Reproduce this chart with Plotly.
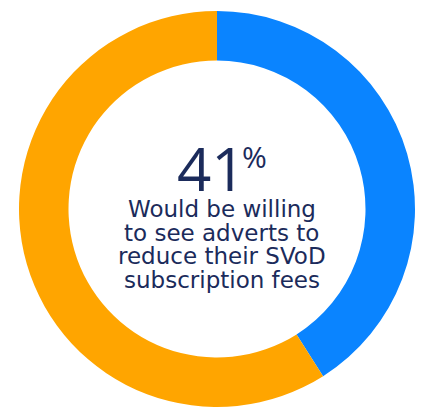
"""SVoD advert willingness — donut chart with centre callout."""

import plotly.graph_objects as go

# ── data ─────────────────────────────────────────────────────────────

labels = ["Willing", "Not willing"]
shares = [41, 59]
slice_colors = ["#0A84FF", "#FFA500"]
headline = "41"
caption_lines = [
    "Would be willing",
    "to see adverts to",
    "reduce their SVoD",
    "subscription fees",
]

NAVY = "#1B2B5B"
HEAD_FONT = "Open Sans"
BODY_FONT = "DejaVu Sans"

# ── chart ────────────────────────────────────────────────────────────

W, H = 424, 408
OFF = 8  # page body margin pushes the plot down/right
cx, cy, r = 217, 209, 198  # target pixels in the page


def paper(x, y):
    """Page pixel position -> paper coordinates."""
    return (x - OFF) / W, 1 - (y - OFF) / H


fig = go.Figure(
    go.Pie(
        labels=labels,
        values=shares,
        hole=0.75,
        sort=False,
        direction="clockwise",
        rotation=0,
        marker={"colors": slice_colors, "line": {"width": 0}},
        textinfo="none",
        hoverinfo="label+percent",
        showlegend=False,
        domain={
            "x": [(cx - OFF - r) / W, (cx - OFF + r) / W],
            "y": [(H - (cy - OFF) - r) / H, (H - (cy - OFF) + r) / H],
        },
    )
)

hx, hy = paper(211, 168.5)
fig.add_annotation(
    x=hx, y=hy, xref="paper", yref="paper",
    text=headline, showarrow=False,
    font={"family": HEAD_FONT, "size": 60, "color": NAVY},
)
px_, py_ = paper(254, 156)
fig.add_annotation(
    x=px_, y=py_, xref="paper", yref="paper",
    text="%", showarrow=False,
    font={"family": HEAD_FONT, "size": 30, "color": NAVY},
)

baselines = [216.5, 240.5, 264, 288]
for line, base in zip(caption_lines, baselines):
    lx, ly = paper(221.5, base - 8)
    fig.add_annotation(
        x=lx, y=ly, xref="paper", yref="paper",
        text=line, showarrow=False,
        font={"family": BODY_FONT, "size": 23, "color": NAVY},
    )

fig.update_layout(
    width=W,
    height=H,
    margin={"l": 0, "r": 0, "t": 0, "b": 0},
    paper_bgcolor="white",
    plot_bgcolor="white",
)

fig.write_html("out.html")
